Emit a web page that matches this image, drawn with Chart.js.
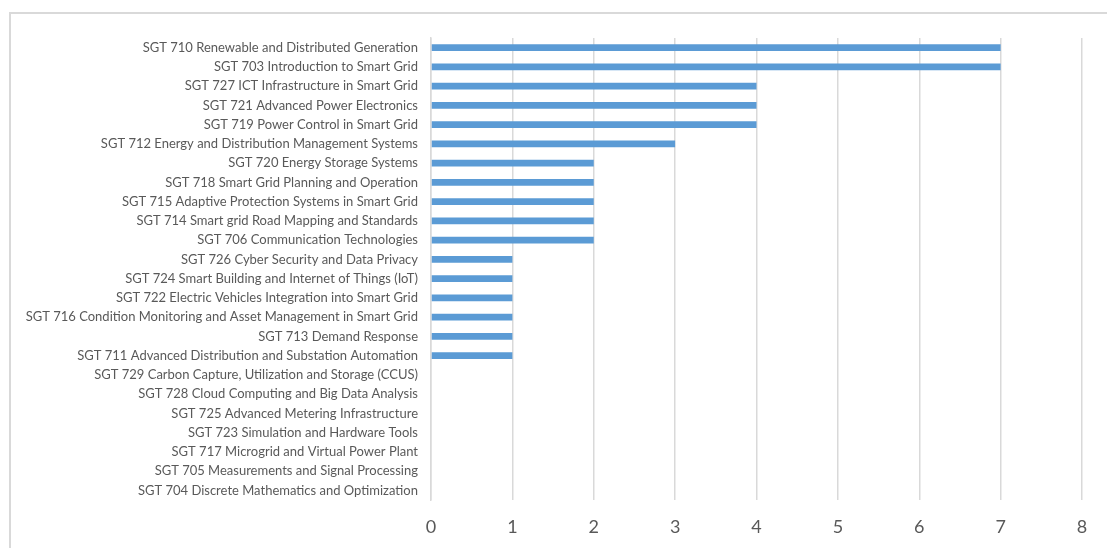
<!DOCTYPE html>
<html>
<head>
<meta charset="utf-8">
<script src="https://cdn.jsdelivr.net/npm/chart.js@4.4.1/dist/chart.umd.min.js"></script>
<style>
  html, body { margin: 0; padding: 0; background: #fff; overflow: hidden; }
  #wrap { position: relative; width: 1107px; height: 548px; }
  #frame { position: absolute; left: 9px; top: 12px; width: 1200px; height: 600px; border: 2px solid #d9d9d9; box-sizing: border-box; }
  #myChart { position: absolute; left: 0; top: 0; }
</style>
</head>
<body>
<div id="wrap">
  <div id="frame"></div>
  <canvas id="myChart" width="1107" height="548"></canvas>
</div>
<script>
var courses = [
  "SGT 710 Renewable and Distributed Generation",
  "SGT 703 Introduction to Smart Grid",
  "SGT 727 ICT Infrastructure in Smart Grid",
  "SGT 721 Advanced Power Electronics",
  "SGT 719 Power Control in Smart Grid",
  "SGT 712 Energy and Distribution Management Systems",
  "SGT 720 Energy Storage Systems",
  "SGT 718 Smart Grid Planning and Operation",
  "SGT 715 Adaptive Protection Systems in Smart Grid",
  "SGT 714 Smart grid Road Mapping and Standards",
  "SGT 706 Communication Technologies",
  "SGT 726 Cyber Security and Data Privacy",
  "SGT 724 Smart Building and Internet of Things (IoT)",
  "SGT 722 Electric Vehicles Integration into Smart Grid",
  "SGT 716 Condition Monitoring and Asset Management in Smart Grid",
  "SGT 713 Demand Response",
  "SGT 711 Advanced Distribution and Substation Automation",
  "SGT 729 Carbon Capture, Utilization and Storage (CCUS)",
  "SGT 728 Cloud Computing and Big Data Analysis",
  "SGT 725 Advanced Metering Infrastructure",
  "SGT 723 Simulation and Hardware Tools",
  "SGT 717 Microgrid and Virtual Power Plant",
  "SGT 705 Measurements and Signal Processing",
  "SGT 704 Discrete Mathematics and Optimization"
];
var counts = [7, 7, 4, 4, 4, 3, 2, 2, 2, 2, 2, 1, 1, 1, 1, 1, 1, 0, 0, 0, 0, 0, 0, 0];
var xMin = 0;
var xMax = 8;

var textColor = "#595959";
var gridColor = "#d9d9d9";

new Chart("myChart", {
  type: "bar",
  data: {
    labels: courses,
    datasets: [{
      data: counts,
      backgroundColor: "#5b9bd5",
      barPercentage: 0.36,
      categoryPercentage: 1
    }]
  },
  options: {
    indexAxis: "y",
    responsive: false,
    animation: false,
    layout: { padding: { top: 38, right: 25, left: 0, bottom: 0 } },
    plugins: {
      legend: { display: false },
      tooltip: { enabled: false }
    },
    scales: {
      x: {
        min: xMin,
        max: xMax,
        ticks: {
          stepSize: 1,
          color: textColor,
          font: { family: "Lato", size: 18 },
          padding: 16
        },
        grid: { color: gridColor, lineWidth: 1.5, drawTicks: false },
        border: { display: false },
        afterFit: function(scale) { scale.height = 48; }
      },
      y: {
        ticks: {
          color: textColor,
          font: { family: "Lato", size: 13 },
          padding: 13,
          autoSkip: false
        },
        grid: { display: false, drawTicks: false },
        border: { display: true, color: gridColor, width: 1.5 },
        afterFit: function(scale) { scale.width = 431; }
      }
    }
  }
});
</script>
</body>
</html>
